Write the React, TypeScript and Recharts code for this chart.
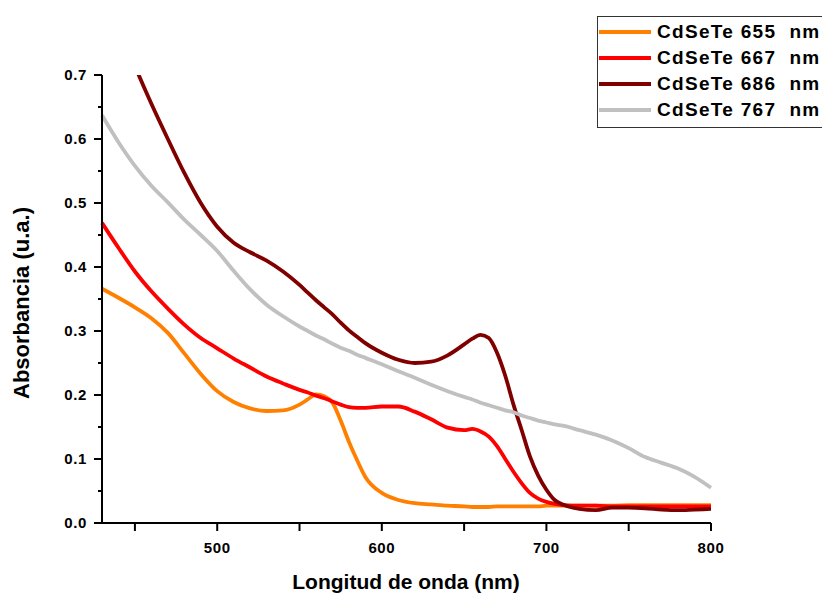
import React from 'react';
import { LineChart, Line, XAxis, YAxis, Legend } from 'recharts';

const wavelengths = [430, 440, 450, 460, 470, 480, 490, 500, 510, 520, 530, 540, 550, 555, 560, 565, 570, 575, 580, 585, 590, 600, 610, 620, 630, 640, 650, 655, 660, 665, 670, 675, 680, 685, 690, 695, 700, 705, 710, 720, 730, 740, 750, 760, 770, 780, 790, 800];

const cdsete655 = [0.366, 0.352, 0.337, 0.320, 0.297, 0.265, 0.233, 0.206, 0.189, 0.179, 0.175, 0.176, 0.185, 0.193, 0.201, 0.198, 0.188, 0.160, 0.127, 0.098, 0.072, 0.047, 0.036, 0.031, 0.029, 0.027, 0.026, 0.025, 0.025, 0.025, 0.026, 0.026, 0.026, 0.026, 0.026, 0.026, 0.027, 0.027, 0.027, 0.027, 0.027, 0.027, 0.028, 0.028, 0.028, 0.028, 0.028, 0.028];

const cdsete667 = [0.469, 0.430, 0.393, 0.362, 0.335, 0.310, 0.289, 0.273, 0.257, 0.243, 0.229, 0.218, 0.208, 0.204, 0.199, 0.195, 0.190, 0.185, 0.181, 0.180, 0.180, 0.182, 0.182, 0.174, 0.162, 0.149, 0.145, 0.147, 0.143, 0.135, 0.120, 0.100, 0.080, 0.062, 0.047, 0.038, 0.033, 0.030, 0.028, 0.027, 0.027, 0.026, 0.026, 0.026, 0.026, 0.026, 0.026, 0.026];

const cdsete686 = [0.850, 0.778, 0.714, 0.655, 0.600, 0.547, 0.500, 0.463, 0.438, 0.423, 0.410, 0.393, 0.372, 0.360, 0.348, 0.337, 0.326, 0.313, 0.301, 0.291, 0.281, 0.266, 0.255, 0.250, 0.252, 0.262, 0.279, 0.288, 0.294, 0.289, 0.266, 0.230, 0.185, 0.145, 0.104, 0.074, 0.052, 0.036, 0.029, 0.022, 0.020, 0.024, 0.024, 0.023, 0.021, 0.020, 0.021, 0.022];

const cdsete767 = [0.637, 0.595, 0.558, 0.527, 0.501, 0.474, 0.450, 0.425, 0.394, 0.365, 0.341, 0.323, 0.307, 0.300, 0.293, 0.287, 0.280, 0.274, 0.269, 0.263, 0.258, 0.248, 0.237, 0.227, 0.216, 0.206, 0.197, 0.193, 0.188, 0.184, 0.180, 0.176, 0.173, 0.168, 0.164, 0.160, 0.157, 0.154, 0.152, 0.145, 0.138, 0.129, 0.117, 0.103, 0.094, 0.085, 0.072, 0.055];

const seriesNames = ['CdSeTe 655  nm', 'CdSeTe 667  nm', 'CdSeTe 686  nm', 'CdSeTe 767  nm'];
const seriesKeys = ['s655', 's667', 's686', 's767'];
const seriesColors = ['#FF8000', '#FF0000', '#800000', '#C0C0C0'];

const xTicks = [450, 500, 550, 600, 650, 700, 750, 800];
const yTicks = [0, 0.05, 0.1, 0.15, 0.2, 0.25, 0.3, 0.35, 0.4, 0.45, 0.5, 0.55, 0.6, 0.65, 0.7];

const xTitle = 'Longitud de onda (nm)';
const yTitle = 'Absorbancia (u.a.)';

const data = wavelengths.map((w, i) => ({
  w,
  s655: cdsete655[i],
  s667: cdsete667[i],
  s686: cdsete686[i],
  s767: cdsete767[i],
}));

const FONT = '"Liberation Sans", Arial, sans-serif';

const XTick = (props: any) => {
  const { x, y, payload } = props;
  const major = Math.round(payload.value) % 100 === 0;
  return (
    <g>
      <line x1={x} x2={x} y1={y} y2={y + 8} stroke="#000" strokeWidth={2} />
      {major && (
        <text x={x} y={y + 30} textAnchor="middle" fontFamily={FONT} fontWeight="bold" fontSize={15} letterSpacing={0.6} fill="#000">
          {payload.value}
        </text>
      )}
    </g>
  );
};

const YTick = (props: any) => {
  const { x, y, payload } = props;
  const major = Math.round(payload.value * 100) % 10 === 0;
  return (
    <g>
      <line x1={x} x2={x - (major ? 8 : 4)} y1={y} y2={y} stroke="#000" strokeWidth={2} />
      {major && (
        <text x={x - 15} y={y + 5} textAnchor="end" fontFamily={FONT} fontWeight="bold" fontSize={15} letterSpacing={0.6} fill="#000">
          {payload.value.toFixed(1)}
        </text>
      )}
    </g>
  );
};

const renderLegend = () => (
  <div
    style={{
      border: '1.5px solid #333',
      background: '#fff',
      padding: '2px 0 4px 0',
      width: 240,
      boxSizing: 'border-box',
    }}
  >
    {seriesNames.map((n, i) => (
      <div key={n} style={{ display: 'flex', alignItems: 'center', height: 26 }}>
        <span style={{ display: 'inline-block', width: 52, height: 4, background: seriesColors[i], marginLeft: 1 }} />
        <span
          style={{
            marginLeft: 6,
            fontFamily: FONT,
            fontWeight: 'bold',
            fontSize: 19,
            letterSpacing: 1.3,
            whiteSpace: 'pre',
            color: '#000',
            lineHeight: '26px',
          }}
        >
          {n}
        </span>
      </div>
    ))}
  </div>
);

export default function App() {
  return (
    <div style={{ position: 'absolute', left: 0, top: 0, width: 822, height: 595, overflow: 'hidden', background: '#fff' }}>
      <LineChart width={822} height={595} data={data} margin={{ top: 75, right: 111, bottom: 0, left: 42 }}>
        <XAxis
          type="number"
          dataKey="w"
          domain={[430, 800]}
          ticks={xTicks}
          interval={0}
          tickSize={0}
          tickMargin={0}
          tick={<XTick />}
          height={72}
          axisLine={{ stroke: '#000', strokeWidth: 2 }}
          label={{
            content: () => (
              <text x={406} y={589} textAnchor="middle" fontFamily={FONT} fontWeight="bold" fontSize={21} fill="#000">
                {xTitle}
              </text>
            ),
          }}
        />
        <YAxis
          type="number"
          domain={[0, 0.7]}
          allowDataOverflow
          ticks={yTicks}
          interval={0}
          tickSize={0}
          tickMargin={0}
          tick={<YTick />}
          width={60}
          axisLine={{ stroke: '#000', strokeWidth: 2 }}
          label={{
            content: () => (
              <text x={29} y={303} textAnchor="middle" transform="rotate(-90 29 303)" fontFamily={FONT} fontWeight="bold" fontSize={22} fill="#000">
                {yTitle}
              </text>
            ),
          }}
        />
        <Legend
          layout="vertical"
          align="center"
          verticalAlign="middle"
          wrapperStyle={{ top: 16, left: 597, width: 240 }}
          content={renderLegend}
        />
        {seriesKeys.map((k, i) => (
          <Line
            key={k}
            type="monotone"
            dataKey={k}
            name={seriesNames[i]}
            stroke={seriesColors[i]}
            strokeWidth={3.8}
            dot={false}
            isAnimationActive={false}
          />
        ))}
      </LineChart>
    </div>
  );
}
